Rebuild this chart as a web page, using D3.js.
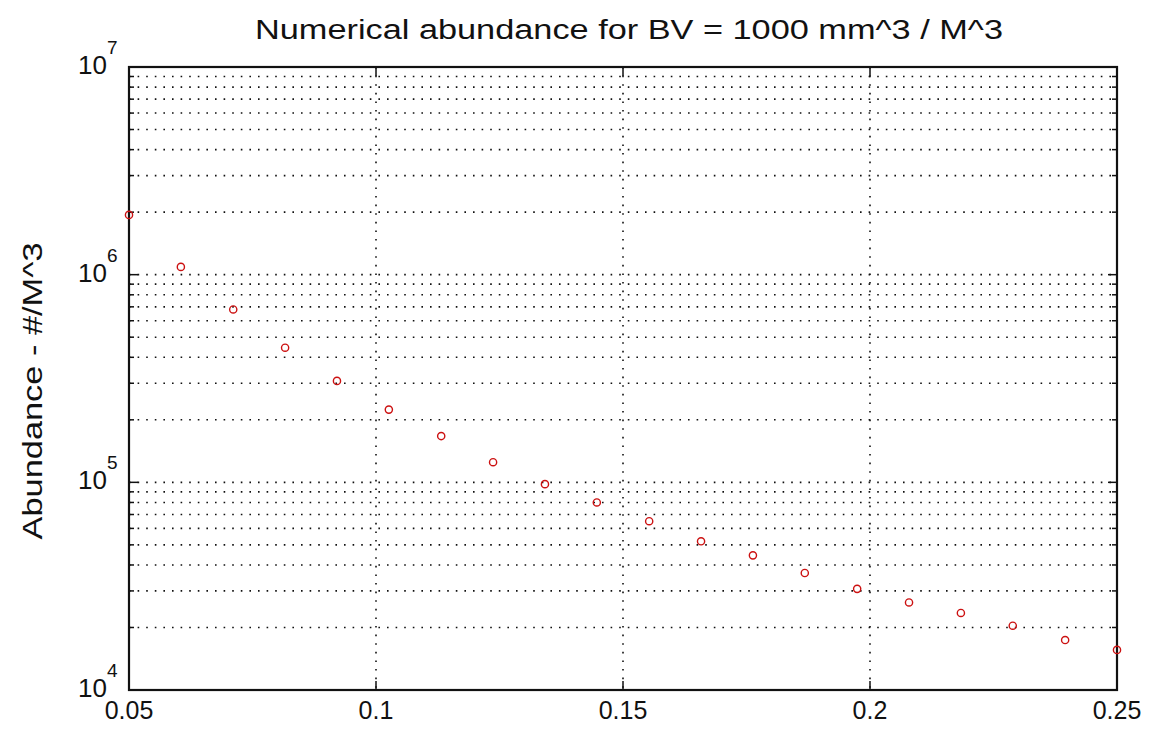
<!DOCTYPE html>
<html>
<head>
<script src="https://d3js.org/d3.v7.min.js"></script>
<style>
  body { margin: 0; background: #fff; }
  text { font-family: "Liberation Sans", Arial, sans-serif; fill: #111; }
</style>
</head>
<body>
<svg id="svg"></svg>
<script>
// sample positions: 20 evenly spaced sizes between 0.05 and 0.25
const sizes = [0.05, 0.0605, 0.0711, 0.0816, 0.0921, 0.1026, 0.1132, 0.1237, 0.1342, 0.1447,
               0.1553, 0.1658, 0.1763, 0.1868, 0.1974, 0.2079, 0.2184, 0.2289, 0.2395, 0.25];
const abundance = [1.94e6, 1.09e6, 6.8e5, 4.45e5, 3.08e5, 2.24e5, 1.67e5, 1.25e5, 9.8e4, 8.0e4,
                   6.5e4, 5.2e4, 4.45e4, 3.66e4, 3.07e4, 2.64e4, 2.35e4, 2.04e4, 1.74e4, 1.56e4];
const xTicks = [0.05, 0.1, 0.15, 0.2, 0.25];
const yDecades = [4, 5, 6, 7];

const W = 1154, H = 730;
const pLeft = 129, pRight = 1117, pTop = 67, pBottom = 690;

const svg = d3.select("#svg").attr("width", W).attr("height", H);

const x = d3.scaleLinear().domain([0.05, 0.25]).range([pLeft, pRight]);
const y = d3.scaleLog().domain([1e4, 1e7]).range([pBottom, pTop]);

// minor + major log values for grid
let yGrid = [];
for (let k = 4; k < 7; k++) for (let m = 1; m < 10; m++) yGrid.push(m * Math.pow(10, k));
yGrid = yGrid.filter(v => v > 1e4);

const grid = svg.append("g");
grid.selectAll("line.h")
  .data(yGrid)
  .enter().append("line")
  .attr("x1", pLeft).attr("x2", pRight)
  .attr("y1", d => y(d)).attr("y2", d => y(d))
  .attr("stroke", "#111").attr("stroke-width", 1.6)
  .attr("stroke-dasharray", "1.6,7");

grid.selectAll("line.v")
  .data(xTicks.slice(1, -1))
  .enter().append("line")
  .attr("x1", d => x(d)).attr("x2", d => x(d))
  .attr("y1", pTop).attr("y2", pBottom)
  .attr("stroke", "#111").attr("stroke-width", 1.6)
  .attr("stroke-dasharray", "1.6,7");

// ticks inward, on all four sides
const tk = svg.append("g").attr("stroke", "#111").attr("stroke-width", 1.5);
xTicks.forEach(v => {
  tk.append("line").attr("x1", x(v)).attr("x2", x(v)).attr("y1", pBottom).attr("y2", pBottom - 9);
  tk.append("line").attr("x1", x(v)).attr("x2", x(v)).attr("y1", pTop).attr("y2", pTop + 9);
});
yGrid.concat([1e4, 1e7]).forEach(v => {
  const lg = Math.log10(v);
  const major = Math.abs(lg - Math.round(lg)) < 1e-9;
  const len = major ? 9 : 5;
  tk.append("line").attr("x1", pLeft).attr("x2", pLeft + len).attr("y1", y(v)).attr("y2", y(v));
  tk.append("line").attr("x1", pRight).attr("x2", pRight - len).attr("y1", y(v)).attr("y2", y(v));
});

// frame
svg.append("rect")
  .attr("x", pLeft).attr("y", pTop)
  .attr("width", pRight - pLeft).attr("height", pBottom - pTop)
  .attr("fill", "none").attr("stroke", "#111").attr("stroke-width", 2.2);

// x tick labels
svg.selectAll("text.xt")
  .data(xTicks)
  .enter().append("text")
  .attr("x", d => x(d)).attr("y", pBottom + 29)
  .attr("text-anchor", "middle")
  .attr("font-size", 25)
  .text(d => String(d));

// y tick labels 10^k
const yl = svg.selectAll("g.yt")
  .data(yDecades)
  .enter().append("g")
  .attr("transform", d => `translate(0,${y(Math.pow(10, d))})`);
yl.append("text")
  .attr("x", 107).attr("y", 7)
  .attr("text-anchor", "end")
  .attr("font-size", 26)
  .text("10");
yl.append("text")
  .attr("x", 107).attr("y", -13)
  .attr("font-size", 19)
  .text(d => d);

// data markers
svg.selectAll("circle.pt")
  .data(sizes.map((s, i) => [s, abundance[i]]))
  .enter().append("circle")
  .attr("cx", d => x(d[0])).attr("cy", d => y(d[1]))
  .attr("r", 3.6)
  .attr("fill", "none").attr("stroke", "#cc1111").attr("stroke-width", 1.4);

// title
svg.append("text")
  .attr("x", 629).attr("y", 39)
  .attr("text-anchor", "middle")
  .attr("font-size", 27)
  .attr("textLength", 748).attr("lengthAdjust", "spacingAndGlyphs")
  .text("Numerical abundance for BV = 1000 mm^3 / M^3");

// y label
svg.append("text")
  .attr("transform", "translate(42,391) rotate(-90)")
  .attr("text-anchor", "middle")
  .attr("font-size", 28)
  .attr("textLength", 297).attr("lengthAdjust", "spacingAndGlyphs")
  .text("Abundance - #/M^3");
</script>
</body>
</html>
